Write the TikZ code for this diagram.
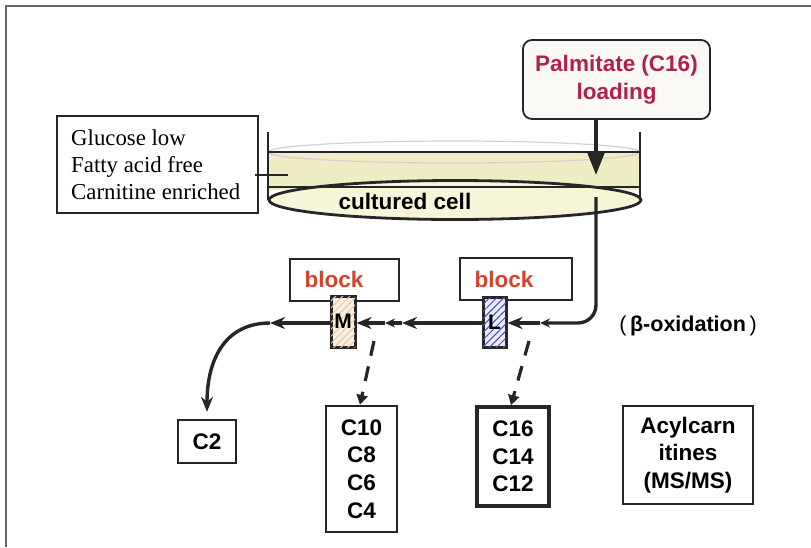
\documentclass[tikz,border=0pt]{standalone}
\usepackage{fontspec}
\setmainfont{Liberation Sans}
\newfontfamily\serifft{Liberation Serif}
\usetikzlibrary{arrows.meta,patterns.meta,shapes.geometric}
\definecolor{palmred}{HTML}{B0224A}
\definecolor{blockred}{HTML}{D4432B}
\definecolor{liquid}{HTML}{EFEDC6}
\definecolor{cellfill}{HTML}{F6F5D8}
\definecolor{palmfill}{HTML}{FAF9F5}
\definecolor{ink}{HTML}{262626}
\definecolor{framec}{HTML}{666666}
\tikzset{
  lbl/.style={font=\bfseries\fontsize{22.5}{27.7}\selectfont, align=center, inner sep=0pt},
  box/.style={draw=ink, line width=2.3pt, inner sep=0pt},
  flow/.style={draw=ink, line width=3.4pt},
  ahead/.style={-{Stealth[length=15pt,width=12pt]}},
  asmall/.style={-{Stealth[length=10pt,width=9pt]}},
  dashflow/.style={draw=ink, line width=3.2pt, dash pattern=on 15pt off 11pt, -{Triangle[length=10pt,width=11pt]}}
}
\begin{document}
\begin{tikzpicture}[x=1pt,y=-1pt]
\useasboundingbox (0,0) rectangle (811,547);
% frame
\coordinate (fbl) at (6,547); \coordinate (ftl) at (6,6); \coordinate (ftr) at (811,6);
\draw[framec, line width=1.8pt] (fbl) -- (ftl) -- (ftr);

% palmitate
\node[box, line width=1.8pt, rounded corners=9pt, fill=palmfill, minimum width=187pt, minimum height=79pt] (palm) at (616.5,79.5) {};
\node[lbl, text=palmred] at (616.5,80) {Palmitate (C16)\\loading};

% medium box
\node[box, line width=1.8pt, minimum width=201pt, minimum height=97pt] (med) at (157.5,164.5) {};
\node[anchor=west, align=left, inner sep=0pt, font=\serifft\fontsize{22.8}{27}\selectfont] at (71,165) {Glucose low\\Fatty acid free\\Carnitine enriched};

% dish
\fill[liquid] (268,152) rectangle (640,190);
\draw[gray!35, line width=1.2pt] (454,152) ellipse [x radius=186, y radius=11];
\draw[ink, line width=2pt] (268,152) -- (640,152);
\node[ellipse, draw=ink, line width=2.8pt, fill=cellfill, minimum width=372pt, minimum height=39pt, inner sep=0pt] (cell) at (455,200) {};
\draw[ink, line width=1.6pt] (268,187) -- (640,187);
\node[lbl] (celltxt) at (405,201) {cultured cell};
\coordinate (wl1) at (268,132); \coordinate (wl2) at (268,200);
\coordinate (wr1) at (640,132); \coordinate (wr2) at (640,200);
\draw[ink, line width=2pt] (wl1) -- (wl2);
\draw[ink, line width=2pt] (wr1) -- (wr2);
\coordinate (tk1) at (255,175); \coordinate (tk2) at (288,175);
\draw[ink, line width=1.6pt] (tk1) -- (tk2);

% loading arrow
\coordinate (pa1) at (596,119); \coordinate (pa2) at (596,175);
\draw[flow, -{Triangle[length=24pt,width=18pt]}] (pa1) -- (pa2);

% blocks
\node[box, line width=1.8pt, minimum width=109pt, minimum height=42pt] (blockM) at (344.5,280) {};
\node[lbl, text=blockred] at (334,279) {block};
\node[box, line width=1.8pt, minimum width=112pt, minimum height=42pt] (blockL) at (516,279) {};
\node[lbl, text=blockred] at (504,279) {block};

% enzymes
\node[box, line width=3pt, minimum width=24pt, minimum height=51pt, fill=orange!12,
      postaction={pattern={Lines[angle=45,distance=5pt,line width=1pt]}, pattern color=brown!45}] (M) at (343,321.5) {};
\node[font=\bfseries\fontsize{21}{22}\selectfont, inner sep=0pt] at (M) {M};
\node[box, line width=3pt, minimum width=23pt, minimum height=50pt, fill=blue!8,
      postaction={pattern={Lines[angle=45,distance=5pt,line width=1pt]}, pattern color=blue!40!gray}] (L) at (494.5,322) {};
\node[font=\bfseries\fontsize{21}{22}\selectfont, inner sep=0pt] at (L) {L};

% product boxes
\node[box, minimum width=58pt, minimum height=43pt, lbl] (c2) at (207,441.5) {C2};
\node[box, minimum width=71pt, minimum height=126pt, lbl] (cmid) at (361.5,469) {C10\\C8\\C6\\C4};
\node[box, line width=3.6pt, minimum width=72pt, minimum height=99pt, lbl] (clong) at (513,456.5) {C16\\C14\\C12};
\node[box, minimum width=130pt, minimum height=98pt, lbl] (acyl) at (688,455) {Acylcarn\\itines\\(MS/MS)};

% beta-oxidation label
\node[font=\bfseries\fontsize{21.5}{26}\selectfont, inner sep=0pt] (beta) at (688,326) {{\mdseries(}\,β-oxidation\,{\mdseries)}};

% flow path
\coordinate (cs) at (596,197);
\coordinate (r1) at (596,323);
\coordinate (r2) at (540,323);
\coordinate (m1) at (402,323);
\coordinate (m2) at (385,323);
\coordinate (l1) at (270,323);
\draw[flow, rounded corners=18pt, asmall] (cs) -- (r1) -- (r2);
\draw[flow, ahead] (r2) -- (L.east |- r2);
\draw[flow, ahead] (L.west |- m1) -- (m1);
\draw[flow, asmall] (m1) -- (m2);
\draw[flow, ahead] (m2) -- (M.east |- m2);
\draw[flow, ahead] (M.west |- l1) -- (l1);
\draw[flow, ahead, shorten >=7pt] (l1) .. controls (226,323) and (207,358) .. (c2.north);

% dashed arrows
\coordinate (dm) at (374,341);
\coordinate (dl) at (529,341);
\draw[dashflow] (dm) -- (cmid.north -| 360,0);
\draw[dashflow] (dl) -- (clong.north -| 511,0);
\end{tikzpicture}
\end{document}
